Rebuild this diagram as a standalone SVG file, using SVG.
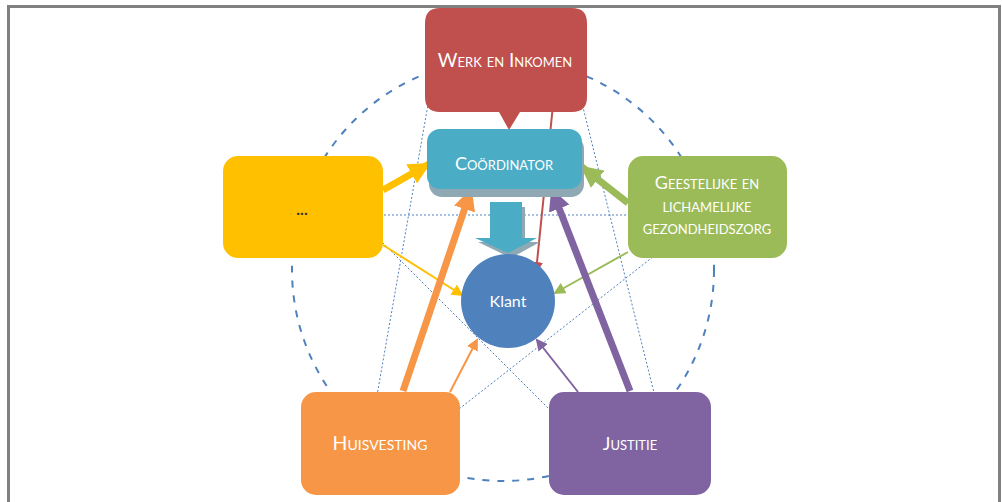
<svg xmlns="http://www.w3.org/2000/svg" width="1002" height="502" viewBox="0 0 1002 502">
<style>
.lbl{font-family:Lato,"Open Sans","Liberation Sans",sans-serif;fill:#ffffff;text-anchor:middle;font-variant:small-caps}
.dot{stroke:#4F81BD;stroke-width:1;stroke-dasharray:2 2;fill:none}
.thin{stroke-width:2;fill:none}
.thick{stroke-width:7;fill:none}
</style>
<defs>
<marker id="hy" markerUnits="userSpaceOnUse" markerWidth="12" markerHeight="12" refX="10" refY="6" orient="auto"><path d="M0,0 L12,6 L0,12 Z" fill="#FFC000"/></marker>
<marker id="hg" markerUnits="userSpaceOnUse" markerWidth="12" markerHeight="12" refX="10" refY="6" orient="auto"><path d="M0,0 L12,6 L0,12 Z" fill="#9BBB59"/></marker>
<marker id="ho" markerUnits="userSpaceOnUse" markerWidth="12" markerHeight="12" refX="10" refY="6" orient="auto"><path d="M0,0 L12,6 L0,12 Z" fill="#F79646"/></marker>
<marker id="hp" markerUnits="userSpaceOnUse" markerWidth="12" markerHeight="12" refX="10" refY="6" orient="auto"><path d="M0,0 L12,6 L0,12 Z" fill="#8064A2"/></marker>
<marker id="hr" markerUnits="userSpaceOnUse" markerWidth="12" markerHeight="12" refX="10" refY="6" orient="auto"><path d="M0,0 L12,6 L0,12 Z" fill="#C0504D"/></marker>
<marker id="Hy" markerUnits="userSpaceOnUse" markerWidth="22" markerHeight="22" refX="20" refY="11" orient="auto"><path d="M0,0 L22,11 L0,22 Z" fill="#FFC000"/></marker>
<marker id="Hg" markerUnits="userSpaceOnUse" markerWidth="22" markerHeight="22" refX="20" refY="11" orient="auto"><path d="M0,0 L22,11 L0,22 Z" fill="#9BBB59"/></marker>
<marker id="Ho" markerUnits="userSpaceOnUse" markerWidth="22" markerHeight="22" refX="20" refY="11" orient="auto"><path d="M0,0 L22,11 L0,22 Z" fill="#F79646"/></marker>
<marker id="Hp" markerUnits="userSpaceOnUse" markerWidth="22" markerHeight="22" refX="20" refY="11" orient="auto"><path d="M0,0 L22,11 L0,22 Z" fill="#8064A2"/></marker>
</defs>
<rect width="1002" height="502" fill="#ffffff"/>
<path d="M8.5,510 V6.5 H999.5 V510" fill="none" stroke="#808080" stroke-width="3"/>
<g id="background">
<circle cx="503" cy="270" r="211" fill="none" stroke="#4F81BD" stroke-width="2" stroke-dasharray="7 8"/>
<line class="dot" x1="436" y1="59" x2="369" y2="441"/>
<line class="dot" x1="571" y1="59" x2="666" y2="441"/>
<line class="dot" x1="300" y1="215" x2="707" y2="215"/>
<line class="dot" x1="340" y1="200" x2="560" y2="420"/>
<line class="dot" x1="700" y1="220" x2="445" y2="420"/>
</g>
<g id="connectors">
<line class="thin" stroke="#C0504D" x1="553" y1="105" x2="536" y2="272" marker-end="url(#hr)"/>
<line class="thin" stroke="#FFC000" x1="383" y1="245" x2="462" y2="295" marker-end="url(#hy)"/>
<line class="thin" stroke="#9BBB59" x1="628" y1="252" x2="555" y2="293" marker-end="url(#hg)"/>
<line class="thin" stroke="#F79646" x1="450" y1="392" x2="477" y2="340" marker-end="url(#ho)"/>
<line class="thin" stroke="#8064A2" x1="578" y1="392" x2="537" y2="340" marker-end="url(#hp)"/>
<line class="thick" stroke="#FFC000" x1="383" y1="190" x2="429" y2="164" marker-end="url(#Hy)"/>
<line class="thick" stroke="#9BBB59" x1="628" y1="203" x2="582" y2="167" marker-end="url(#Hg)"/>
<line class="thick" stroke="#F79646" x1="403" y1="391" x2="471" y2="190" marker-end="url(#Ho)"/>
<line class="thick" stroke="#8064A2" x1="630" y1="391" x2="552" y2="190" marker-end="url(#Hp)"/>
<path d="M493,207 H525 V242 H540 L511,258 L478,242 H493 Z" fill="#8EA9B4"/>
<path d="M490,202 H522 V238 H537 L508,253 L475,238 H490 Z" fill="#4BACC6"/>
</g>
<g id="werk">
<path d="M440,8 H572 Q587,8 587,23 V97 Q587,112 572,112 H520 L509,130 L499,112 H440 Q425,112 425,97 V23 Q425,8 440,8 Z" fill="#C0504D"/>
<text class="lbl" x="505" y="67" font-size="19">Werk en Inkomen</text>
</g>
<g id="coordinator">
<rect x="429" y="136" width="155" height="61" rx="13" fill="#8EA9B4"/>
<rect x="427" y="129" width="155" height="60" rx="13" fill="#4BACC6"/>
<text class="lbl" x="504" y="170" font-size="18">Coördinator</text>
</g>
<g id="geest">
<rect x="628" y="156" width="159" height="102" rx="15" fill="#9BBB59"/>
<text class="lbl" x="707" y="189" font-size="18">Geestelijke en</text>
<text class="lbl" x="707" y="212" font-size="18">lichamelijke</text>
<text class="lbl" x="707" y="234" font-size="18">gezondheidszorg</text>
</g>
<g id="dots">
<rect x="223" y="156" width="160" height="102" rx="15" fill="#FFC000"/>
<text x="302" y="215" font-family="Lato,'Liberation Sans',sans-serif" font-size="16" font-weight="bold" fill="#333333" text-anchor="middle">...</text>
</g>
<g id="huisvesting">
<rect x="301" y="392" width="159" height="103" rx="15" fill="#F79646"/>
<text class="lbl" x="380" y="450" font-size="19.5">Huisvesting</text>
</g>
<g id="justitie">
<rect x="549" y="392" width="162" height="103" rx="15" fill="#8064A2"/>
<text class="lbl" x="630" y="450" font-size="18">Justitie</text>
</g>
<g id="klant">
<circle cx="508" cy="301" r="47" fill="#4F81BD"/>
<text x="508" y="307" font-family="Lato,'Open Sans','Liberation Sans',sans-serif" font-size="16" fill="#ffffff" text-anchor="middle">Klant</text>
</g>
</svg>
